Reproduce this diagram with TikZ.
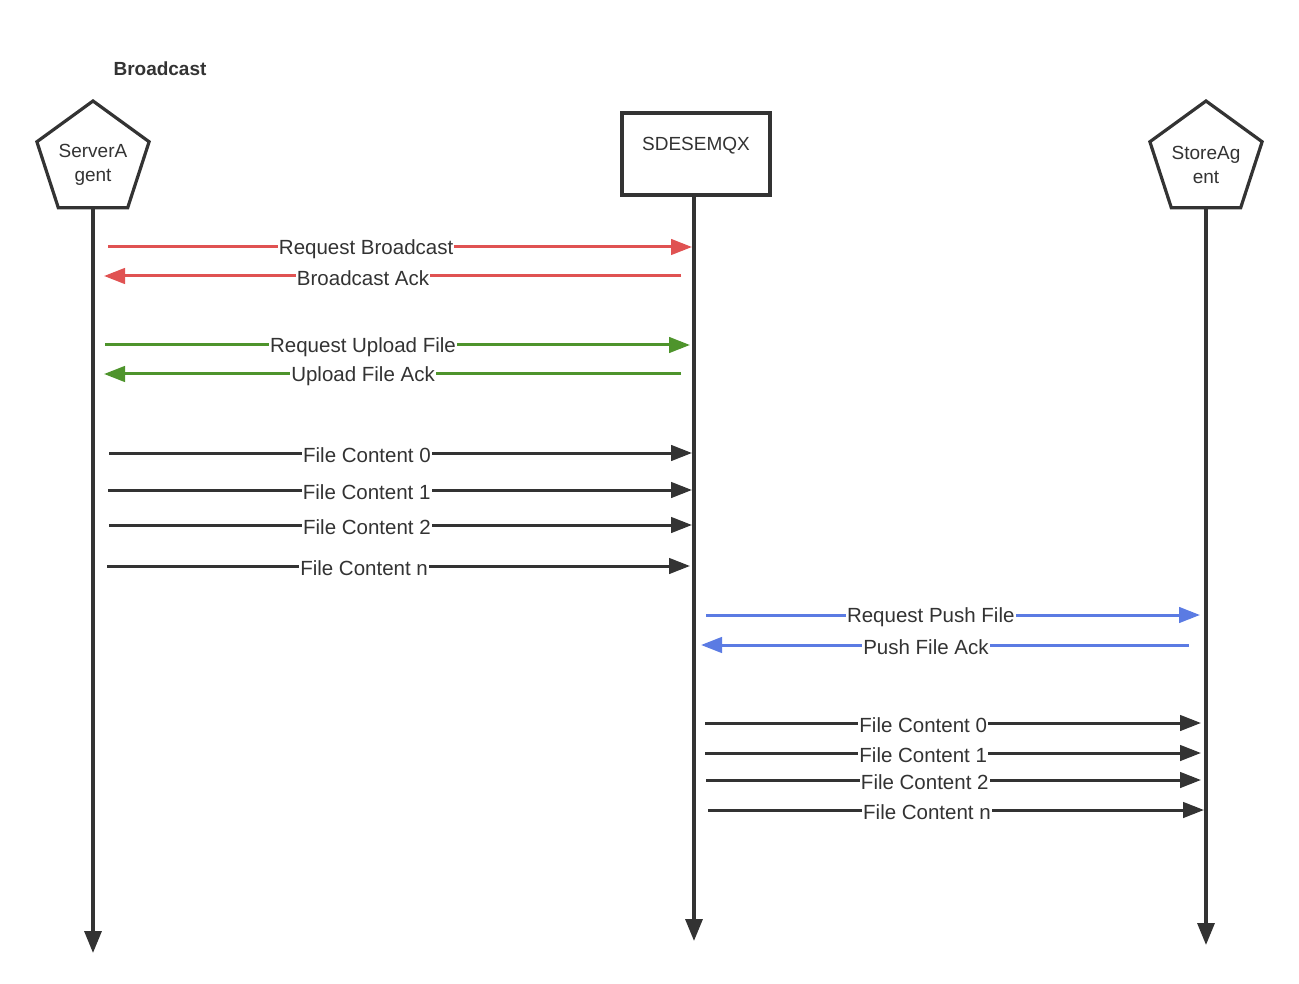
\documentclass[tikz,border=0pt]{standalone}
\usepackage{fontspec}
\setmainfont{Liberation Sans}
\usetikzlibrary{arrows.meta,shapes.geometric}
\definecolor{ink}{HTML}{333333}
\definecolor{mred}{HTML}{E05252}
\definecolor{mgreen}{HTML}{4E942C}
\definecolor{mblue}{HTML}{5B7BE3}
\tikzset{
  lbl/.style={font=\fontsize{19}{24}\selectfont, text=ink},
  actor/.style={regular polygon, regular polygon sides=5, minimum size=118pt, inner sep=0pt, draw=ink, line width=3.2pt, fill=white},
  boxactor/.style={draw=ink, line width=3.4pt, fill=white, minimum width=148pt, minimum height=82pt, inner sep=0pt},
  lifeline/.style={draw=ink, line width=3.3pt, -{Triangle[length=22pt,width=17pt]}},
  msg/.style={line width=3pt, -{Triangle[length=21pt,width=15.5pt]}},
  msglbl/.style={font=\fontsize{20.5}{24}\selectfont, text=ink, fill=white, inner sep=1pt, yshift=-2.5pt},
  redmsg/.style={msg, draw=mred, fill=mred},
  greenmsg/.style={msg, draw=mgreen, fill=mgreen},
  bluemsg/.style={msg, draw=mblue, fill=mblue},
  blackmsg/.style={msg, draw=ink, fill=ink},
}
\begin{document}
\begin{tikzpicture}[x=1pt,y=-1pt]
\useasboundingbox (0,0) rectangle (1299,984);
\node[lbl, font=\fontsize{19}{24}\selectfont\bfseries] (title) at (160,69) {Broadcast};
\node[actor] (sa) at (93,160) {};
\node[lbl, align=center] (sat) at (93,165) {ServerA\\gent};
\node[actor] (st) at (1206,160) {};
\node[lbl, align=center] (stt) at (1206,165) {StoreAg\\ent};
\node[boxactor] (mq) at (696,154) {};
\node[lbl] (mqt) at (696,146) {SDESEMQX};
\coordinate (saend) at (93,953);
\coordinate (mqend) at (694,941);
\coordinate (stend) at (1206,945);
\draw[lifeline] (sa.south) -- (saend);
\draw[lifeline] (mq.south -| mqend) -- (mqend);
\draw[lifeline] (st.south) -- (stend);
% messages ServerAgent <-> SDESEMQX
\coordinate (a1) at (108,247); \coordinate (b1) at (692,247);
\coordinate (a2) at (681,276); \coordinate (b2) at (104,276);
\coordinate (a3) at (105,345); \coordinate (b3) at (690,345);
\coordinate (a4) at (681,374); \coordinate (b4) at (104,374);
\coordinate (a5) at (109,453); \coordinate (b5) at (692,453);
\coordinate (a6) at (108,490); \coordinate (b6) at (692,490);
\coordinate (a7) at (109,525); \coordinate (b7) at (692,525);
\coordinate (a8) at (107,566); \coordinate (b8) at (690,566);
\draw[redmsg] (a1) -- node[msglbl, pos=0.442] (l1) {Request Broadcast} (b1);
\draw[redmsg] (a2) -- node[msglbl, pos=0.551] (l2) {Broadcast Ack} (b2);
\draw[greenmsg] (a3) -- node[msglbl, pos=0.441] (l3) {Request Upload File} (b3);
\draw[greenmsg] (a4) -- node[msglbl, pos=0.551] (l4) {Upload File Ack} (b4);
\draw[blackmsg] (a5) -- node[msglbl, pos=0.4425] (l5) {File Content 0} (b5);
\draw[blackmsg] (a6) -- node[msglbl, pos=0.443] (l6) {File Content 1} (b6);
\draw[blackmsg] (a7) -- node[msglbl, pos=0.4425] (l7) {File Content 2} (b7);
\draw[blackmsg] (a8) -- node[msglbl, pos=0.441] (l8) {File Content n} (b8);
% messages SDESEMQX <-> StoreAgent
\coordinate (c1) at (706,615); \coordinate (d1) at (1200,615);
\coordinate (c2) at (1189,645); \coordinate (d2) at (701,645);
\coordinate (c3) at (705,723); \coordinate (d3) at (1201,723);
\coordinate (c4) at (705,753); \coordinate (d4) at (1201,753);
\coordinate (c5) at (706,780); \coordinate (d5) at (1201,780);
\coordinate (c6) at (708,810); \coordinate (d6) at (1204,810);
\draw[bluemsg] (c1) -- node[msglbl, pos=0.455] (k1) {Request Push File} (d1);
\draw[bluemsg] (c2) -- node[msglbl, pos=0.539] (k2) {Push File Ack} (d2);
\draw[blackmsg] (c3) -- node[msglbl, pos=0.44] (k3) {File Content 0} (d3);
\draw[blackmsg] (c4) -- node[msglbl, pos=0.44] (k4) {File Content 1} (d4);
\draw[blackmsg] (c5) -- node[msglbl, pos=0.442] (k5) {File Content 2} (d5);
\draw[blackmsg] (c6) -- node[msglbl, pos=0.4415] (k6) {File Content n} (d6);
\end{tikzpicture}
\end{document}
